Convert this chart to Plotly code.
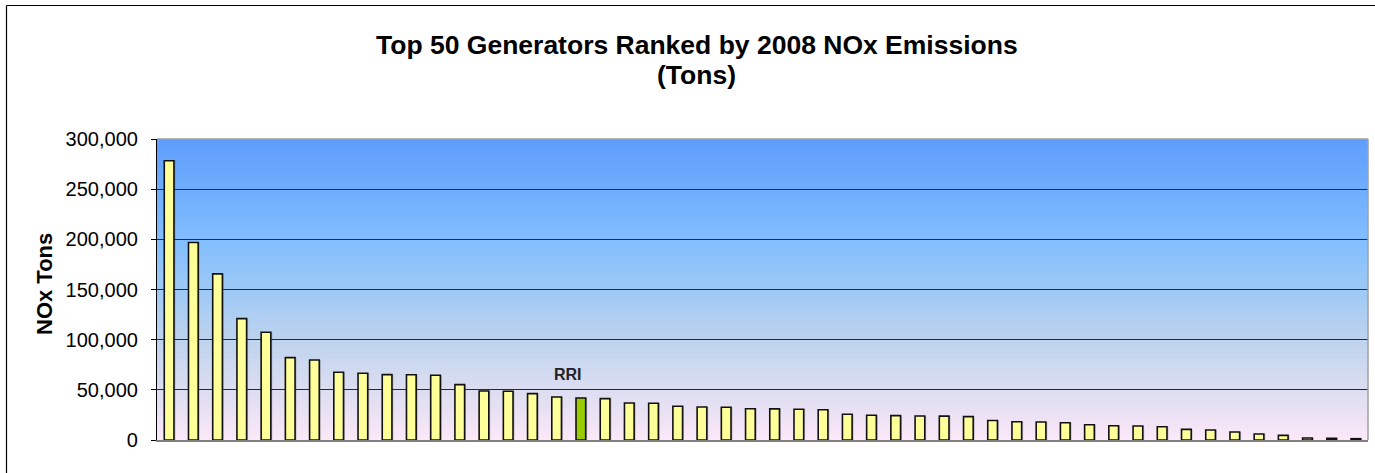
import plotly.graph_objects as go

# ---------------- data ----------------
ranks = list(range(1, 51))
nox_tons = [278300, 196800, 165600, 121000, 107400, 82100, 79800, 67500, 66500, 65200,
            65000, 64500, 55200, 48900, 48600, 46200, 42900, 41900, 41200, 36900,
            36600, 33600, 32900, 32600, 31200, 31000, 30600, 30200, 25600, 24600,
            24300, 23900, 23800, 23300, 19500, 18200, 18000, 17200, 15200, 14200,
            14000, 13200, 10600, 10000, 8000, 6000, 4600, 2000, 1600, 1300]
highlight_rank = 18
highlight_label = "RRI"
y_ticks = [0, 50000, 100000, 150000, 200000, 250000, 300000]
title_line1 = "Top 50 Generators Ranked by 2008 NOx Emissions"
title_line2 = "(Tons)"
y_title = "NOx Tons"

# ---------------- layout geometry ----------------
W, H = 1375, 473
ML, MR, MT, MB = 157, 7, 139, 33
PW = W - ML - MR
PH = H - MT - MB

def px_x(x):
    return (x - ML) / PW

def px_y(y):
    return (H - MB - y) / PH

FONT = "Arial, 'Liberation Sans', sans-serif"

bar_colors = ["#99CC00" if r == highlight_rank else "#FFFF99" for r in ranks]

fig = go.Figure()
# soft shadow
fig.add_trace(go.Bar(
    x=ranks, y=nox_tons, width=0.42, offset=-0.16,
    marker=dict(color="rgba(90,90,110,0.35)", line=dict(width=0)),
    hoverinfo="skip", showlegend=False,
))
fig.add_trace(go.Bar(
    x=ranks, y=nox_tons, width=0.40,
    marker=dict(color=bar_colors, line=dict(color="#111111", width=1.6)),
    showlegend=False,
))

# gradient background strips
stops = [
    (0.00, (252, 232, 248)),
    (0.17, (218, 220, 240)),
    (0.33, (190, 211, 238)),
    (0.50, (158, 201, 246)),
    (0.66, (130, 190, 254)),
    (1.00, (94, 157, 253)),
]

def grad(t):
    for (t0, c0), (t1, c1) in zip(stops[:-1], stops[1:]):
        if t0 <= t <= t1:
            f = (t - t0) / (t1 - t0)
            return tuple(round(a + (b - a) * f) for a, b in zip(c0, c1))
    return stops[-1][1]

shapes = []
N = 150
for i in range(N):
    t0 = i / N
    t1 = (i + 1) / N
    c = grad((t0 + t1) / 2)
    shapes.append(dict(
        type="rect", xref="x domain", yref="y domain",
        x0=0, x1=1, y0=t0, y1=min(1, t1 + 0.002),
        fillcolor="rgb(%d,%d,%d)" % c, line=dict(width=0), layer="below",
    ))
# plot area top / right border (grey)
shapes.append(dict(type="line", xref="paper", yref="paper", x0=0, x1=1, y0=1, y1=1,
                   line=dict(color="#A0A0A0", width=1.5), layer="above"))
shapes.append(dict(type="line", xref="paper", yref="paper", x0=1, x1=1, y0=0, y1=1,
                   line=dict(color="#A0A0A0", width=1.5), layer="above"))
# chart outer border (top and left edges visible; others run off canvas)
shapes.append(dict(type="line", xref="paper", yref="paper",
                   x0=px_x(6.5), x1=px_x(1380), y0=px_y(5.5), y1=px_y(5.5),
                   line=dict(color="#000000", width=1.2), layer="below"))
shapes.append(dict(type="line", xref="paper", yref="paper",
                   x0=px_x(6.5), x1=px_x(6.5), y0=px_y(5.5), y1=px_y(480),
                   line=dict(color="#000000", width=1.2), layer="below"))

annotations = [
    dict(text="<b>%s</b>" % title_line1, xref="paper", yref="paper",
         x=px_x(696.5), y=px_y(44.5), showarrow=False, xanchor="center", yanchor="middle",
         font=dict(family=FONT, size=26.5, color="#000000")),
    dict(text="<b>%s</b>" % title_line2, xref="paper", yref="paper",
         x=px_x(696.5), y=px_y(75), showarrow=False, xanchor="center", yanchor="middle",
         font=dict(family=FONT, size=26.5, color="#000000")),
    dict(text="<b>%s</b>" % y_title, xref="paper", yref="paper",
         x=px_x(44.5), y=px_y(284.5), showarrow=False, textangle=-90,
         xanchor="center", yanchor="middle",
         font=dict(family=FONT, size=22, color="#000000")),
    dict(text="<b>%s</b>" % highlight_label, xref="x", yref="y",
         x=highlight_rank, y=nox_tons[highlight_rank - 1], xshift=-13, yshift=13,
         showarrow=False, xanchor="center", yanchor="bottom",
         font=dict(family=FONT, size=16, color="#222222")),
]

fig.update_layout(
    width=W, height=H,
    margin=dict(l=ML, r=MR, t=MT, b=MB, pad=0),
    paper_bgcolor="#FFFFFF",
    plot_bgcolor="rgba(0,0,0,0)",
    barmode="overlay",
    shapes=shapes,
    annotations=annotations,
    font=dict(family=FONT, color="#000000"),
    xaxis=dict(range=[0.5, 50.5], showticklabels=False, ticks="", showgrid=False,
               zeroline=False, showline=True, linecolor="#808080", linewidth=1.5),
    yaxis=dict(range=[0, 300000], tickvals=y_ticks, tickformat=",",
               ticks="outside", ticklen=5, tickcolor="#000000", tickwidth=1,
               ticklabelstandoff=9,
               tickfont=dict(family=FONT, size=20, color="#000000"),
               showgrid=True, gridcolor="#2A2A2A", gridwidth=1,
               zeroline=False, showline=True, linecolor="#000000", linewidth=1.2),
)

fig.write_html("out.html",
               config={"displayModeBar": False},
               post_script="document.body.style.margin='0';document.body.style.overflow='hidden';")
